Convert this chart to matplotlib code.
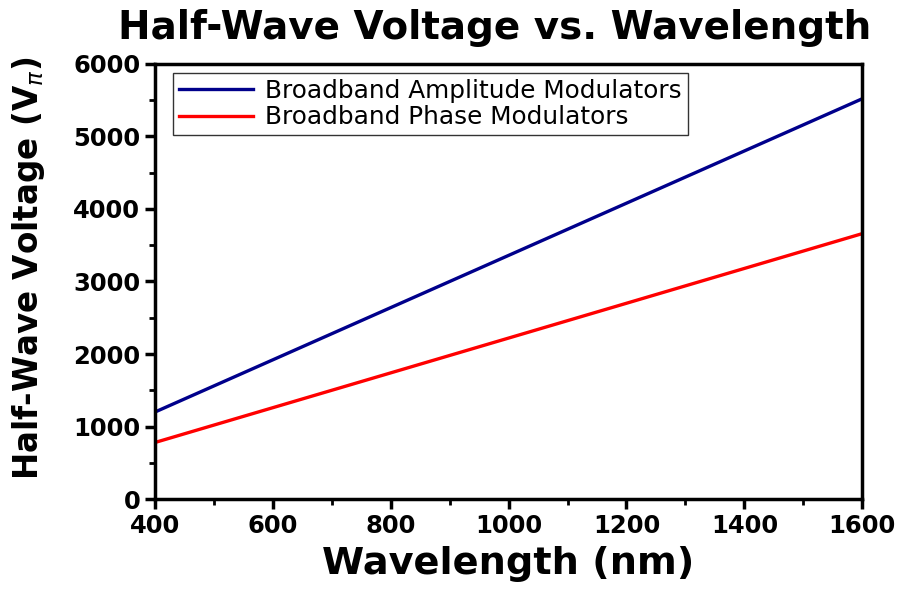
import matplotlib
matplotlib.use("Agg")
import matplotlib.pyplot as plt
from matplotlib.ticker import MultipleLocator

plt.rcParams['font.family'] = ['DejaVu Sans']
plt.rcParams['mathtext.fontset'] = 'dejavusans'

wavelength = [400, 600, 800, 1000, 1200, 1400, 1600]
amp_vpi = [1200, 1920, 2640, 3360, 4080, 4800, 5520]
phase_vpi = [780, 1260, 1740, 2220, 2700, 3180, 3660]

fig = plt.figure(figsize=(9.01, 5.92), dpi=100)
ax = fig.add_axes([0.172, 0.157, 0.785, 0.735])

ax.plot(wavelength, amp_vpi, color='#00008B', lw=2.4, label='Broadband Amplitude Modulators')
ax.plot(wavelength, phase_vpi, color='#FF0000', lw=2.4, label='Broadband Phase Modulators')

ax.set_xlim(400, 1600)
ax.set_ylim(0, 6000)
ax.xaxis.set_major_locator(MultipleLocator(200))
ax.xaxis.set_minor_locator(MultipleLocator(100))
ax.yaxis.set_major_locator(MultipleLocator(1000))
ax.yaxis.set_minor_locator(MultipleLocator(500))
ax.tick_params(which='major', direction='out', length=7, width=2.5, labelsize=17.5)
ax.tick_params(which='minor', direction='out', length=4, width=2)
for lab in ax.get_xticklabels() + ax.get_yticklabels():
    lab.set_fontweight('bold')
for s in ax.spines.values():
    s.set_linewidth(2.5)

ax.set_title('Half-Wave Voltage vs. Wavelength', fontsize=28, fontweight='bold',
             x=0.48, pad=18)
ax.set_xlabel('Wavelength (nm)', fontsize=27.5, fontweight='bold', labelpad=6)
ax.set_ylabel('Half-Wave Voltage (V$_{\\pi}$)', fontsize=23.5, fontweight='bold')
ax.yaxis.set_label_coords(-0.152, 0.53)

leg = ax.legend(loc='upper left', bbox_to_anchor=(0.025, 0.98), borderaxespad=0,
                fontsize=17.8, frameon=True, fancybox=False, edgecolor='black',
                handlelength=3.0, borderpad=0.25, labelspacing=0.1, handletextpad=0.5)
leg.get_frame().set_linewidth(1.0)

fig.savefig('out.png', dpi=100)
